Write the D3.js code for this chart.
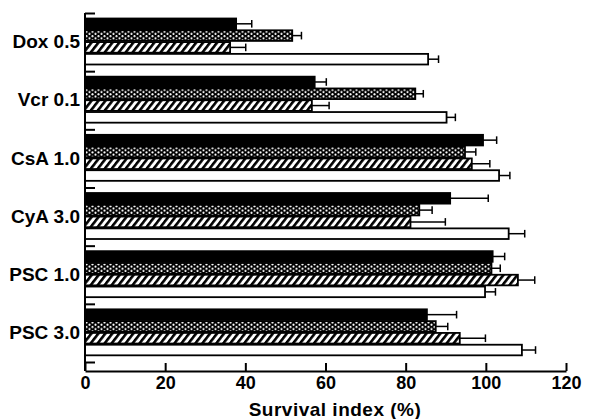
<!DOCTYPE html>
<html>
<head>
<meta charset="utf-8">
<script src="https://cdn.jsdelivr.net/npm/d3@7"></script>
<style>
  body { margin: 0; background: #fff; }
  text { font-family: "Liberation Sans", Arial, sans-serif; fill: #000; }
</style>
</head>
<body>
<script>
// chart values
var groups = ["Dox 0.5", "Vcr 0.1", "CsA 1.0", "CyA 3.0", "PSC 1.0", "PSC 3.0"];
var seriesNames = ["black", "dotted", "hatched", "white"];

var blackVals   = [37.7, 57.3, 99.3, 91.1, 101.7, 85.3];
var blackErr    = [3.9, 2.9, 3.4, 9.5, 3.0, 7.4];
var dottedVals  = [51.7, 82.4, 94.8, 83.4, 101.4, 87.5];
var dottedErr   = [2.3, 2.0, 2.7, 3.2, 2.2, 3.0];
var hatchedVals = [36.2, 56.6, 96.5, 81.2, 108.0, 93.5];
var hatchedErr  = [3.9, 4.3, 4.5, 8.7, 4.2, 6.4];
var whiteVals   = [85.6, 90.2, 103.3, 105.7, 99.8, 109.0];
var whiteErr    = [2.6, 2.2, 2.7, 4.0, 2.6, 3.4];

var xTicks = [0, 20, 40, 60, 80, 100, 120];

var svgWidth = 598;
var svgHeight = 419;
var margin = { top: 13, right: 32, bottom: 48, left: 85 };
var width = svgWidth - margin.left - margin.right;
var height = 349; // bands stop a little above the x axis
var axisY = 358;

var svg = d3.select("body")
  .append("svg")
  .attr("width", svgWidth)
  .attr("height", svgHeight);

// fill patterns
var defs = svg.append("defs");

var dots = defs.append("pattern")
  .attr("id", "dots")
  .attr("patternUnits", "userSpaceOnUse")
  .attr("width", 6)
  .attr("height", 4.4);
dots.append("rect").attr("width", 6).attr("height", 4.4).attr("fill", "#000");
dots.append("circle").attr("cx", 1.5).attr("cy", 1.1).attr("r", 1.05).attr("fill", "#fff");
dots.append("circle").attr("cx", 4.5).attr("cy", 3.3).attr("r", 1.05).attr("fill", "#fff");

var hatch = defs.append("pattern")
  .attr("id", "hatch")
  .attr("patternUnits", "userSpaceOnUse")
  .attr("width", 5.5)
  .attr("height", 10)
  .attr("patternTransform", "rotate(38)");
hatch.append("rect").attr("width", 5.5).attr("height", 10).attr("fill", "#fff");
hatch.append("rect").attr("width", 2.6).attr("height", 10).attr("fill", "#000");

var fills = { black: "#000", dotted: "url(#dots)", hatched: "url(#hatch)", white: "#fff" };

var chart = svg.append("g")
  .attr("transform", "translate(" + margin.left + "," + margin.top + ")");

var x = d3.scaleLinear().domain([0, 120]).range([0, width]);

var y = d3.scaleBand().domain(groups).range([0, height]).padding(0);

var yInner = d3.scaleBand()
  .domain(seriesNames)
  .range([5.5, 51.5])
  .paddingInner(0.1);

var table = groups.map(function (g, i) {
  return {
    group: g,
    bars: [
      { s: "black", v: blackVals[i], e: blackErr[i] },
      { s: "dotted", v: dottedVals[i], e: dottedErr[i] },
      { s: "hatched", v: hatchedVals[i], e: hatchedErr[i] },
      { s: "white", v: whiteVals[i], e: whiteErr[i] }
    ]
  };
});

var groupG = chart.selectAll("g.grp")
  .data(table)
  .enter()
  .append("g")
  .attr("class", "grp")
  .attr("transform", function (d) { return "translate(0," + y(d.group) + ")"; });

// error bars first so the bars sit on top of the start of them
var err = groupG.selectAll("g.err")
  .data(function (d) { return d.bars; })
  .enter()
  .append("g")
  .attr("class", "err");

err.append("line")
  .attr("x1", function (d) { return x(d.v); })
  .attr("x2", function (d) { return x(d.v + d.e); })
  .attr("y1", function (d) { return yInner(d.s) + yInner.bandwidth() / 2; })
  .attr("y2", function (d) { return yInner(d.s) + yInner.bandwidth() / 2; })
  .attr("stroke", "#000")
  .attr("stroke-width", 1.5);

err.append("line")
  .attr("x1", function (d) { return x(d.v + d.e); })
  .attr("x2", function (d) { return x(d.v + d.e); })
  .attr("y1", function (d) { return yInner(d.s) + 1.5; })
  .attr("y2", function (d) { return yInner(d.s) + yInner.bandwidth() - 1.5; })
  .attr("stroke", "#000")
  .attr("stroke-width", 1.5);

groupG.selectAll("rect.bar")
  .data(function (d) { return d.bars; })
  .enter()
  .append("rect")
  .attr("class", "bar")
  .attr("x", x(0))
  .attr("y", function (d) { return yInner(d.s); })
  .attr("width", function (d) { return x(d.v) - x(0); })
  .attr("height", yInner.bandwidth())
  .attr("fill", function (d) { return fills[d.s]; })
  .attr("stroke", "#000")
  .attr("stroke-width", 1.8);

// y axis: vertical line, boundary ticks pointing in, group labels on the left
var yb = d3.scaleLinear().domain([0, groups.length]).range([0, height]);

chart.append("line")
  .attr("x1", 0).attr("x2", 0)
  .attr("y1", 0).attr("y2", axisY)
  .attr("stroke", "#000")
  .attr("stroke-width", 2);

chart.append("g")
  .call(d3.axisRight(yb).tickValues(d3.range(groups.length + 1)).tickFormat("").tickSize(10).tickSizeOuter(0))
  .call(function (g) { g.select(".domain").remove(); })
  .selectAll("line")
  .attr("stroke-width", 2);

chart.append("g")
  .call(d3.axisLeft(y).tickSize(0).tickPadding(5))
  .call(function (g) { g.select(".domain").remove(); })
  .selectAll("text")
  .style("font-size", "19px")
  .style("font-weight", "bold");

// x axis
var xAxis = chart.append("g")
  .attr("transform", "translate(0," + axisY + ")")
  .call(d3.axisBottom(x).tickValues(xTicks).tickSize(-8).tickSizeOuter(0).tickPadding(5));

xAxis.select(".domain").attr("stroke-width", 2);
xAxis.selectAll(".tick line").attr("stroke-width", 2);
xAxis.selectAll("text")
  .style("font-size", "18px")
  .style("font-weight", "bold");

chart.append("text")
  .attr("x", 250)
  .attr("y", axisY + 45)
  .attr("text-anchor", "middle")
  .style("font-size", "19px")
  .style("font-weight", "bold")
  .style("letter-spacing", "0.5px")
  .text("Survival index (%)");
</script>
</body>
</html>
